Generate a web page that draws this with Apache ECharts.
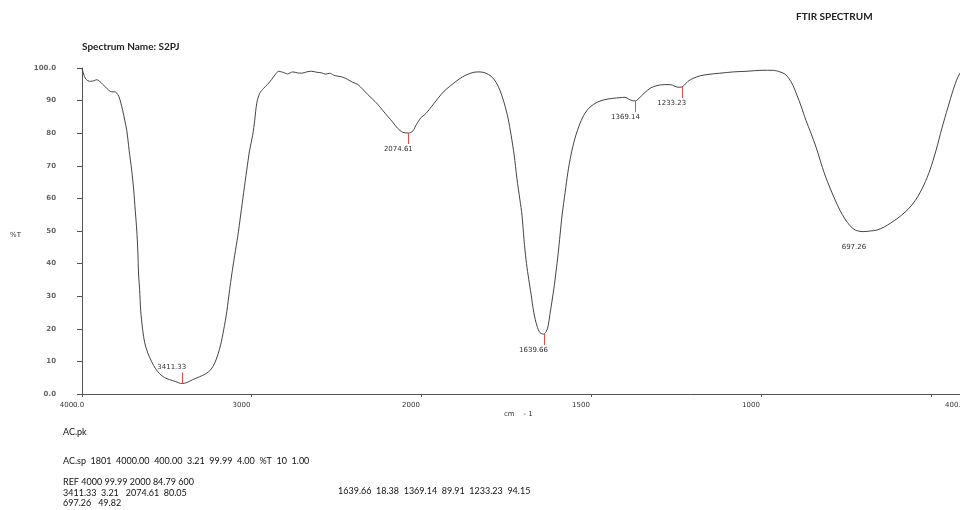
<!DOCTYPE html>
<html>
<head>
<meta charset="utf-8">
<title>FTIR SPECTRUM</title>
<script src="https://cdn.jsdelivr.net/npm/echarts@6/dist/echarts.min.js"></script>
<style>
  html, body { margin: 0; padding: 0; background: #fff; }
  #chart { width: 960px; height: 510px; }
</style>
</head>
<body>
<div id="chart"></div>
<script>
// spectrum, split at 2000 cm-1 where the x scale doubles
const wnHigh = [4000, 3990, 3981, 3966, 3949, 3931, 3913, 3896, 3878, 3860, 3843, 3825, 3808, 3795, 3783, 3772, 3760, 3748, 3736, 3722,
  3707, 3695, 3686, 3677, 3671, 3666, 3660, 3654, 3642, 3630, 3612, 3589, 3565, 3542, 3512, 3483, 3447, 3411.33, 3382, 3347,
  3306, 3270, 3241, 3217, 3199, 3182, 3164, 3146, 3129, 3117, 3099, 3081, 3064, 3046, 3028, 3011, 2993, 2981, 2969, 2952,
  2928, 2905, 2881, 2858, 2840, 2816, 2787, 2757, 2728, 2704, 2675, 2645, 2616, 2586, 2562, 2539, 2515, 2492, 2462, 2433,
  2403, 2374, 2344, 2315, 2285, 2256, 2226, 2197, 2167, 2138, 2108, 2074.61, 2049, 2026, 2000]
const tHigh = [99.9, 98.1, 96.9, 96.1, 95.9, 96.1, 96.4, 95.9, 95.0, 94.1, 93.2, 92.7, 92.7, 92.3, 91.3, 89.5, 87.0, 84.0, 80.9, 74.8,
  68.7, 62.6, 56.4, 50.3, 44.2, 36.5, 32.0, 25.8, 19.7, 15.7, 12.6, 9.9, 7.7, 6.2, 5.0, 4.4, 3.8, 3.21, 3.5, 4.4,
  5.3, 6.2, 7.4, 9.5, 12.0, 15.1, 19.7, 25.2, 32.0, 36.5, 42.6, 48.4, 54.9, 61.9, 68.7, 74.8, 79.4, 84.0, 89.2, 92.2,
  93.8, 95.0, 96.5, 98.1, 99.0, 98.7, 98.2, 98.8, 98.5, 98.4, 98.8, 99.0, 98.7, 98.5, 98.1, 98.4, 97.8, 97.5, 97.2, 96.5,
  95.6, 95.0, 93.5, 91.9, 90.4, 88.9, 87.0, 85.2, 83.4, 81.5, 80.3, 80.05, 80.6, 82.8, 84.79]
const wnLow = [2000, 1985, 1968, 1950, 1932, 1915, 1897, 1879, 1862, 1844, 1826, 1809, 1794, 1779, 1768, 1756, 1744, 1735, 1726, 1718,
  1709, 1703, 1697, 1691, 1685, 1676, 1668, 1659, 1650, 1639.66, 1632, 1626, 1621, 1615, 1609, 1603, 1597, 1591, 1585, 1576,
  1568, 1559, 1547, 1532, 1518, 1503, 1482, 1459, 1435, 1415, 1400, 1388, 1379, 1369.14, 1365, 1353, 1341, 1326, 1306, 1285,
  1268, 1253, 1244, 1233.23, 1226, 1215, 1200, 1179, 1150, 1121, 1082, 1041, 997, 965, 944, 929, 918, 906, 894, 882,
  868, 853, 838, 826, 812, 797, 782, 768, 753, 738, 723, 709, 697.26, 679, 659, 638, 618, 597, 576, 556,
  538, 521, 503, 485, 468, 450, 435, 421, 409, 400]
const tLow = [84.79, 86.1, 88.3, 90.7, 92.9, 94.4, 95.9, 97.2, 98.1, 98.7, 98.8, 98.4, 97.5, 95.6, 93.2, 89.5, 84.6, 79.4, 73.3, 66.2,
  59.5, 54.9, 47.3, 41.1, 36.5, 30.4, 24.9, 20.9, 18.8, 18.38, 19.1, 20.9, 24.3, 28.3, 32.5, 37.4, 42.7, 48.8, 54.9, 61.9,
  68.0, 73.3, 78.5, 83.1, 86.1, 88.0, 89.5, 90.3, 90.7, 90.9, 91.0, 90.4, 90.0, 89.91, 90.1, 91.3, 92.5, 93.8, 94.6, 94.9,
  94.9, 94.4, 94.1, 94.15, 94.7, 95.9, 96.8, 97.6, 98.1, 98.4, 98.8, 99.0, 99.3, 99.3, 98.8, 98.1, 96.8, 94.7, 91.6, 88.3,
  84.0, 80.0, 75.7, 71.7, 67.2, 63.2, 59.5, 56.4, 53.7, 51.6, 50.3, 49.9, 49.82, 50.0, 50.3, 51.2, 52.5, 54.0, 55.8, 58.0,
  60.7, 64.1, 68.7, 74.8, 81.5, 88.0, 93.2, 97.2, 99.3, 99.9]

const peakWn = [3411.33, 2074.61, 1639.66, 1369.14, 1233.23, 697.26]
const peakT = [3.21, 80.05, 18.38, 89.91, 94.15, 49.82]

const tickHigh = [4000, 3000, 2000]
const tickLow = [2000, 1500, 1000, 500, 400]
const labelLow = [1500, 1000, 400]

const reportLines = [
  'AC.pk',
  'AC.sp  1801  4000.00  400.00  3.21  99.99  4.00  %T  10  1.00',
  'REF 4000 99.99 2000 84.79 600',
  '3411.33  3.21   2074.61  80.05',
  '697.26   49.82',
]
const reportTail = '1639.66  18.38  1369.14  89.91  1233.23  94.15'

const pair = (xs, ys) => xs.map((x, i) => [x, ys[i]])
const peaks = pair(peakWn, peakT)

const TEXT = '#333'
const AXIS = '#555'
const PEAK = '#f04848'
const smallFont = '"DejaVu Sans", sans-serif'
const reportFont = 'Lato, "Open Sans", sans-serif'

// red pick line + wavenumber label at each picked peak
const renderPeak = (params, api) => {
  const wn = api.value(0)
  const p = api.coord([wn, api.value(1)])
  const dir = api.value(1) < 10 ? -1 : 1
  const px = Math.round(p[0]) + 0.5
  const children = []
  // the broad 697 band has no pick line in the report
  if (wn > 1000) {
    children.push({
      type: 'line',
      z2: 10,
      shape: { x1: px, y1: p[1], x2: px, y2: p[1] + dir * 11 },
      style: { stroke: PEAK, lineWidth: 1 },
    })
  }
  children.push({
    type: 'text',
    style: {
      text: wn.toFixed(2),
      x: p[0] - 10,
      y: p[1] + dir * 16,
      align: 'center',
      verticalAlign: 'middle',
      font: '7px ' + smallFont,
      fill: TEXT,
    },
  })
  return { type: 'group', children }
}

const xLabel = {
  fontFamily: smallFont,
  fontSize: 7,
  color: TEXT,
  margin: 8,
  padding: [0, 20, 0, 0],
}

const titleStyle = { fontFamily: reportFont, fontSize: 10, fontWeight: 'bold', color: '#222' }

const options = {
  animation: false,
  title: [{
    text: 'FTIR SPECTRUM',
    left: 796,
    top: 12,
    padding: 0,
    textStyle: titleStyle,
  }, {
    text: 'Spectrum Name: S2PJ',
    left: 82,
    top: 42,
    padding: 0,
    textStyle: titleStyle,
  }],
  grid: [
    { left: 82, top: 68, width: 339, height: 326, containLabel: false, outerBoundsMode: 'none' },
    { left: 421, top: 68, width: 544, height: 326, containLabel: false, outerBoundsMode: 'none' },
  ],
  xAxis: [{
    gridIndex: 0,
    type: 'value',
    min: 2000,
    max: 4000,
    inverse: true,
    axisLine: { lineStyle: { color: AXIS } },
    axisTick: { length: 3, customValues: tickHigh, lineStyle: { color: AXIS } },
    axisLabel: {
      ...xLabel,
      customValues: tickHigh,
      formatter: v => (v === 4000 ? '4000.0' : String(v)),
    },
    splitLine: { show: false },
  }, {
    gridIndex: 1,
    type: 'value',
    min: 400,
    max: 2000,
    inverse: true,
    axisLine: { lineStyle: { color: AXIS } },
    axisTick: { length: 3, customValues: tickLow, lineStyle: { color: AXIS } },
    axisLabel: {
      ...xLabel,
      customValues: labelLow,
      formatter: v => (v === 400 ? '400.0' : String(v)),
    },
    splitLine: { show: false },
  }],
  yAxis: [{
    gridIndex: 0,
    type: 'value',
    min: 0,
    max: 100,
    interval: 10,
    axisLine: { show: true, lineStyle: { color: AXIS } },
    axisTick: { show: true, length: 5, lineStyle: { color: AXIS } },
    axisLabel: {
      fontFamily: smallFont,
      fontSize: 7,
      fontWeight: 'bold',
      color: '#666',
      margin: 26,
      padding: [0, 0, 4, 0],
      formatter: v => (v === 0 || v === 100 ? v.toFixed(1) : String(v)),
    },
    splitLine: { show: false },
  }, {
    gridIndex: 1,
    type: 'value',
    min: 0,
    max: 100,
    show: false,
    splitLine: { show: false },
  }],
  series: [{
    type: 'line',
    xAxisIndex: 0,
    yAxisIndex: 0,
    data: pair(wnHigh, tHigh),
    showSymbol: false,
    smooth: 0.3,
    lineStyle: { color: '#444', width: 1 },
  }, {
    type: 'line',
    xAxisIndex: 1,
    yAxisIndex: 1,
    data: pair(wnLow, tLow),
    showSymbol: false,
    smooth: 0.3,
    lineStyle: { color: '#444', width: 1 },
  }, {
    type: 'custom',
    xAxisIndex: 0,
    yAxisIndex: 0,
    z: 5,
    data: peaks.filter(p => p[0] >= 2000),
    renderItem: renderPeak,
  }, {
    type: 'custom',
    xAxisIndex: 1,
    yAxisIndex: 1,
    z: 5,
    data: peaks.filter(p => p[0] < 2000),
    renderItem: renderPeak,
  }],
  graphic: [{
    type: 'text',
    left: 10,
    top: 232,
    style: { text: '%T', font: '7px ' + smallFont, fill: TEXT },
  }, {
    type: 'text',
    left: 504,
    top: 411,
    style: { text: 'cm    - 1', font: '7px ' + smallFont, fill: TEXT },
  }, {
    type: 'text',
    left: 63,
    top: 428,
    style: { text: reportLines[0], font: '9px ' + reportFont, fill: '#111' },
  }, {
    type: 'text',
    left: 63,
    top: 457,
    style: { text: reportLines[1], font: '9px ' + reportFont, fill: '#111' },
  }, {
    type: 'text',
    left: 63,
    top: 477,
    style: { text: reportLines[2] + '\n' + reportLines[3] + '\n' + reportLines[4], font: '9px ' + reportFont, fill: '#111', lineHeight: 10.5 },
  }, {
    type: 'text',
    left: 338,
    top: 487,
    style: { text: reportTail, font: '9px ' + reportFont, fill: '#111' },
  }],
}

const chart = echarts.init(document.getElementById('chart'))
chart.setOption(options)
</script>
</body>
</html>
